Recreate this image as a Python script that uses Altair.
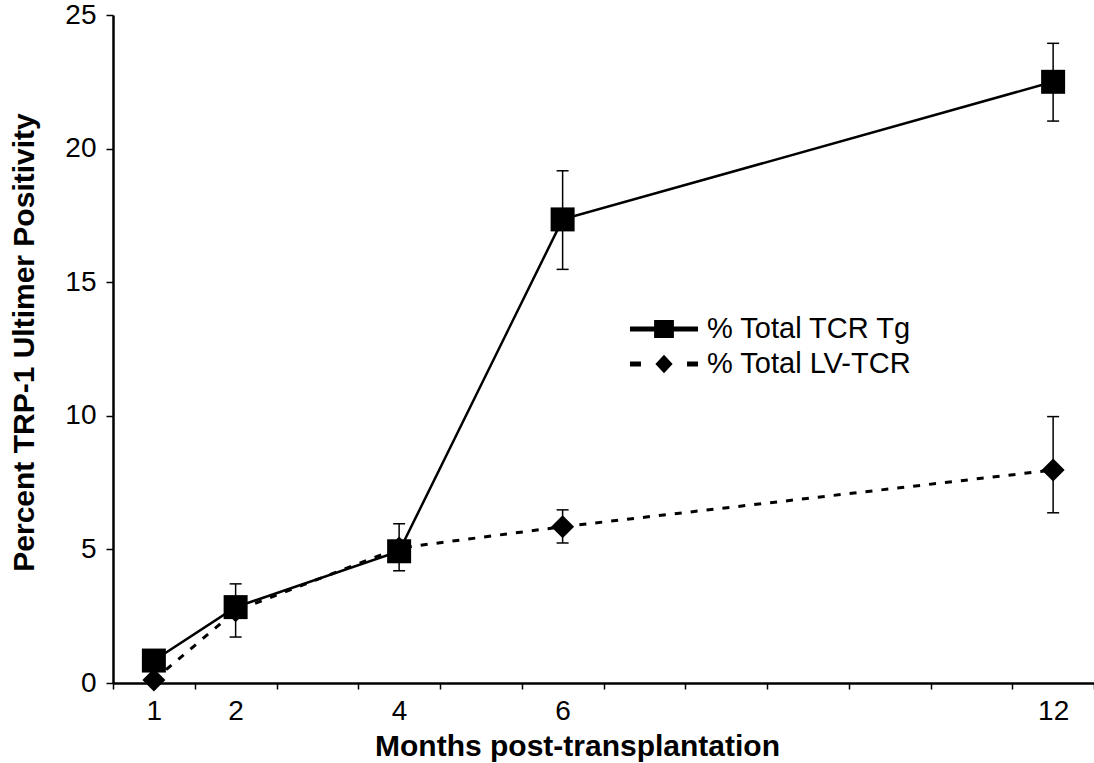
import altair as alt
import pandas as pd
import numpy as np

# ---- data ----
months = [1, 2, 4, 6, 12]
series_names = ["% Total TCR Tg", "% Total LV-TCR"]
tcr_tg = [0.84, 2.84, 4.93, 17.35, 22.50]
lv_tcr = [0.11, 2.70, 5.05, 5.85, 7.97]
# visible error bar ends (None = hidden inside the marker)
tcr_tg_lo = [None, None, None, 15.48, 21.03]
tcr_tg_hi = [None, None, None, 19.17, 23.94]
lv_tcr_lo = [None, 1.72, 4.20, 5.24, 6.37]
lv_tcr_hi = [None, 3.71, 5.96, 6.48, 9.97]
x_tick_labels = months
y_ticks = [0, 5, 10, 15, 20, 25]

FONT = "Liberation Sans"

df = pd.DataFrame({
    "month": months * 2,
    "value": tcr_tg + lv_tcr,
    "series": [series_names[0]] * len(months) + [series_names[1]] * len(months),
})
err = pd.DataFrame({
    "month": months * 2,
    "lo": tcr_tg_lo + lv_tcr_lo,
    "hi": tcr_tg_hi + lv_tcr_hi,
}).dropna()

label_list = "[" + ",".join(str(m) for m in x_tick_labels) + "]"
x_axis = alt.Axis(
    values=[0.5 + i for i in range(13)],
    labelExpr=f"indexof({label_list}, datum.value + 0.5) >= 0 ? '' + (datum.value + 0.5) : ''",
    labelOffset=40.9, labelFlush=False, labelOverlap=False,
    tickSize=6, tickWidth=1.5, tickColor="black",
    domainColor="black", domainWidth=2.5,
    labelFont=FONT, labelFontSize=28, labelColor="black", labelPadding=8,
    title="Months post-transplantation", titleFont=FONT, titleFontSize=30,
    titleFontWeight="bold", titleColor="black",
    titleX=464, titleY=72, titleBaseline="alphabetic", titleAnchor="middle",
    grid=False,
)
y_axis = alt.Axis(
    values=y_ticks, tickSize=7, tickWidth=1.5, tickColor="black",
    domainColor="black", domainWidth=2.5,
    labelFont=FONT, labelFontSize=28, labelColor="black", labelPadding=10,
    title="Percent TRP-1 Ultimer Positivity", titleFont=FONT, titleFontSize=30,
    titleFontWeight="bold", titleColor="black",
    titleX=-80, titleY=327, titleBaseline="alphabetic", titleAngle=-90,
    grid=False,
)
xs = alt.Scale(domain=[0.5, 12.5], nice=False, zero=False)
ys = alt.Scale(domain=[0, 25], nice=False, zero=False)

X = alt.X("month:Q", scale=xs, axis=x_axis)

base = alt.Chart(df)

solid = base.transform_filter(alt.datum.series == series_names[0]).mark_line(
    color="black", strokeWidth=2.5
).encode(x=X, y=alt.Y("value:Q", scale=ys, axis=y_axis))

dashed = base.transform_filter(alt.datum.series == series_names[1]).mark_line(
    color="black", strokeWidth=3, strokeDash=[7, 9]
).encode(x=X, y=alt.Y("value:Q", scale=ys, axis=y_axis))

diamonds = base.transform_filter(alt.datum.series == series_names[1]).mark_point(
    shape="diamond", filled=True, color="black", opacity=1, size=529
).encode(x=X, y=alt.Y("value:Q", scale=ys, axis=y_axis))

squares = base.transform_filter(alt.datum.series == series_names[0]).mark_point(
    shape="square", filled=True, color="black", opacity=1, size=576
).encode(x=X, y=alt.Y("value:Q", scale=ys, axis=y_axis))

ebase = alt.Chart(err)
erule = ebase.mark_rule(color="black", strokeWidth=1.5).encode(
    x=X, y=alt.Y("lo:Q", scale=ys, axis=y_axis), y2="hi:Q")
ecap_lo = ebase.mark_tick(color="black", thickness=1.5, size=12, orient="horizontal", opacity=1).encode(
    x=X, y=alt.Y("lo:Q", scale=ys, axis=y_axis))
ecap_hi = ebase.mark_tick(color="black", thickness=1.5, size=12, orient="horizontal", opacity=1).encode(
    x=X, y=alt.Y("hi:Q", scale=ys, axis=y_axis))

# legend-only layer: symbols drawn as custom paths (line + marker)
sym_solid = "M-1.89,-0.14H1.89V0.14H-1.89Z M-0.55,-0.5H0.55V0.5H-0.55Z"
sym_dash = ("M-1.89,-0.14H-1.28V0.14H-1.89Z M1.28,-0.14H1.89V0.14H1.28Z "
            "M0,-0.52L0.48,0L0,0.52L-0.48,0Z")
legend_layer = base.transform_filter("false").mark_point(
    filled=True, color="black", opacity=1
).encode(
    x=X, y=alt.Y("value:Q", scale=ys, axis=y_axis),
    shape=alt.Shape("series:N",
                    scale=alt.Scale(domain=series_names, range=[sym_solid, sym_dash]),
                    legend=alt.Legend(
                        orient="none", legendX=533, legendY=296, title=None,
                        padding=0, rowPadding=2, symbolSize=1296,
                        symbolFillColor="black", symbolStrokeColor="black",
                        symbolStrokeWidth=0, symbolOpacity=1,
                        labelFont=FONT, labelFontSize=29, labelColor="black",
                        labelOffset=25, labelLimit=400,
                    )),
)

chart = alt.layer(
    dashed, solid, erule, ecap_lo, ecap_hi, diamonds, squares, legend_layer
).properties(
    width=981, height=668,
    autosize=alt.AutoSizeParams(type="none"),
    padding={"left": 113, "top": 15, "right": 0, "bottom": 80},
    background="white",
).configure_view(stroke=None)

chart.save("out.html", embed_options={"renderer": "svg", "actions": False})
